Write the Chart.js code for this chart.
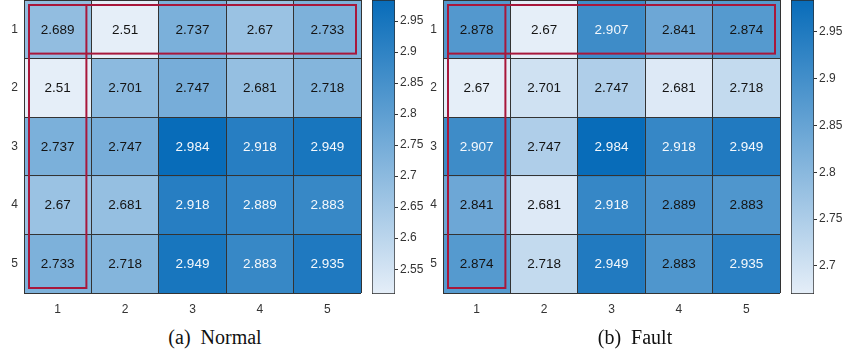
<!DOCTYPE html>
<html>
<head>
<meta charset="utf-8">
<script src="https://cdn.jsdelivr.net/npm/chart.js@4/dist/chart.umd.min.js"></script>
<style>
  html, body { margin: 0; padding: 0; background: #ffffff; }
  #wrap { position: relative; width: 846px; height: 356px; overflow: hidden; }
  canvas { position: absolute; }
  .caption {
    position: absolute; width: 300px; text-align: center;
    font-family: "Liberation Serif", "Times New Roman", serif;
    font-size: 20px; line-height: 20px; color: #111; word-spacing: 5px;
  }
</style>
</head>
<body>
<div id="wrap">
  <canvas id="heatNormal" width="364" height="320" style="left:0px;top:0px"></canvas>
  <canvas id="barNormal" width="55" height="294" style="left:372px;top:0px"></canvas>
  <canvas id="heatFault" width="364" height="320" style="left:419px;top:0px"></canvas>
  <canvas id="barFault" width="55" height="294" style="left:791px;top:0px"></canvas>
  <div class="caption" style="left:65px;top:327px">(a) Normal</div>
  <div class="caption" style="left:485px;top:327px">(b) Fault</div>
</div>
<script>
// Grid labels (rows top to bottom, columns left to right)
const rowLabels = ['1', '2', '3', '4', '5'];
const colLabels = ['1', '2', '3', '4', '5'];

// Cell values, one array per row
const normalRow1 = [2.689, 2.51, 2.737, 2.67, 2.733];
const normalRow2 = [2.51, 2.701, 2.747, 2.681, 2.718];
const normalRow3 = [2.737, 2.747, 2.984, 2.918, 2.949];
const normalRow4 = [2.67, 2.681, 2.918, 2.889, 2.883];
const normalRow5 = [2.733, 2.718, 2.949, 2.883, 2.935];

const faultRow1 = [2.878, 2.67, 2.907, 2.841, 2.874];
const faultRow2 = [2.67, 2.701, 2.747, 2.681, 2.718];
const faultRow3 = [2.907, 2.747, 2.984, 2.918, 2.949];
const faultRow4 = [2.841, 2.681, 2.918, 2.889, 2.883];
const faultRow5 = [2.874, 2.718, 2.949, 2.883, 2.935];

// Colorbar tick labels
const normalTicks = [2.55, 2.6, 2.65, 2.7, 2.75, 2.8, 2.85, 2.9, 2.95];
const faultTicks = [2.7, 2.75, 2.8, 2.85, 2.9, 2.95];

// Highlighted row / column (1-based)
const highlightRow = 1;
const highlightCol = 1;

const normalRows = [normalRow1, normalRow2, normalRow3, normalRow4, normalRow5];
const faultRows = [faultRow1, faultRow2, faultRow3, faultRow4, faultRow5];

const LOW = [229, 238, 248];
const HIGH = [8, 108, 185];
const GRID = '#333333';
const TEXT = '#333333';
const SANS = '"Liberation Sans", Arial, Helvetica, sans-serif';

function colorAt(t) {
  const c = LOW.map((l, i) => Math.round(l + (HIGH[i] - l) * t));
  return `rgb(${c[0]},${c[1]},${c[2]})`;
}

function rangeOf(rows) {
  const all = rows.flat();
  return [Math.min(...all), Math.max(...all)];
}

// Axes hug the plot edges: no extra room for half tick labels
function noEdgePadding(scale) {
  scale.paddingTop = 0;
  scale.paddingBottom = 0;
  scale.paddingLeft = 0;
  scale.paddingRight = 0;
}

// Draws cell values and the highlight frames on top of the grid
const cellAnnotations = {
  id: 'cellAnnotations',
  afterDraw(chart) {
    const { ctx, scales } = chart;
    const opts = chart.options.plugins.cellAnnotations;
    const [lo, hi] = opts.range;
    ctx.save();
    ctx.font = '13.5px ' + SANS;
    ctx.textAlign = 'center';
    ctx.textBaseline = 'middle';
    chart.data.datasets.forEach((ds, di) => {
      const meta = chart.getDatasetMeta(di);
      meta.data.forEach((el, ci) => {
        const v = ds.cellValues[ci];
        const t = (v - lo) / (hi - lo);
        ctx.fillStyle = t > 0.75 ? '#f4f8fc' : '#141414';
        const { x, y, base } = el.getProps(['x', 'y', 'base'], true);
        ctx.fillText(String(v), x, (y + base) / 2 + 0.5);
      });
    });
    // highlight frames
    const xs = scales.x, ys = scales.y;
    const inset = 5;
    const half = xs.width / chart.data.labels.length / 2;
    ctx.strokeStyle = '#a8173b';
    ctx.lineWidth = 2;
    const r0 = ys.getPixelForValue(highlightRow - 0.5);
    const r1 = ys.getPixelForValue(highlightRow + 0.5);
    ctx.strokeRect(xs.left + inset, Math.min(r0, r1) + inset,
      xs.right - xs.left - 2 * inset, Math.abs(r1 - r0) - 2 * inset);
    const cx = xs.getPixelForValue(highlightCol - 1);
    ctx.strokeRect(cx - half + inset, ys.top + inset,
      2 * half - 2 * inset, ys.bottom - ys.top - 2 * inset);
    ctx.restore();
  }
};

function makeHeatmap(id, rows) {
  const range = rangeOf(rows);
  const [lo, hi] = range;
  const datasets = rows.map((vals, ri) => ({
    data: vals.map(() => [ri + 0.5, ri + 1.5]),
    cellValues: vals,
    backgroundColor: vals.map(v => colorAt((v - lo) / (hi - lo))),
    borderWidth: 0,
    grouped: false,
    barPercentage: 1,
    categoryPercentage: 1
  }));
  return new Chart(document.getElementById(id), {
    type: 'bar',
    data: { labels: colLabels, datasets },
    options: {
      responsive: false,
      animation: false,
      events: [],
      layout: { padding: { top: 0, right: 3, bottom: 0, left: 0 } },
      plugins: {
        legend: { display: false },
        tooltip: { enabled: false },
        cellAnnotations: { range }
      },
      scales: {
        x: {
          type: 'category',
          offset: true,
          grid: { offset: true, color: GRID, lineWidth: 1, drawTicks: false, z: 1 },
          border: { display: false },
          ticks: { color: TEXT, font: { family: SANS, size: 12 }, padding: 9 },
          afterFit(scale) { scale.height = 27; noEdgePadding(scale); }
        },
        y: {
          type: 'linear',
          reverse: true,
          min: 0.5,
          max: rowLabels.length + 0.5,
          afterBuildTicks(scale) {
            const ticks = [];
            for (let i = 0; i <= rowLabels.length * 2; i++) ticks.push({ value: 0.5 + i / 2 });
            scale.ticks = ticks;
          },
          grid: {
            color: ctx => (ctx.tick && Number.isInteger(ctx.tick.value)) ? 'rgba(0,0,0,0)' : GRID,
            lineWidth: 1,
            drawTicks: false,
            z: 1
          },
          border: { display: false },
          ticks: {
            color: TEXT,
            font: { family: SANS, size: 12 },
            padding: 6,
            autoSkip: false,
            callback: v => Number.isInteger(v) ? rowLabels[v - 1] : ''
          },
          afterFit(scale) { scale.width = 24; noEdgePadding(scale); }
        }
      }
    },
    plugins: [cellAnnotations]
  });
}

function makeColorbar(id, rows, tickValues) {
  const [lo, hi] = rangeOf(rows);
  return new Chart(document.getElementById(id), {
    type: 'bar',
    data: {
      labels: [''],
      datasets: [{
        data: [[lo, hi]],
        backgroundColor(ctx) {
          const chart = ctx.chart;
          if (!chart.chartArea) return colorAt(0.5);
          const y = chart.scales.y;
          const g = chart.ctx.createLinearGradient(0, y.getPixelForValue(lo), 0, y.getPixelForValue(hi));
          g.addColorStop(0, colorAt(0));
          g.addColorStop(1, colorAt(1));
          return g;
        },
        borderColor: '#2a2a2a',
        borderWidth: 1,
        borderSkipped: false,
        barPercentage: 1,
        categoryPercentage: 1
      }]
    },
    options: {
      responsive: false,
      animation: false,
      events: [],
      layout: { padding: 0 },
      plugins: { legend: { display: false }, tooltip: { enabled: false } },
      scales: {
        x: { display: false, offset: true },
        y: {
          position: 'right',
          min: lo,
          max: hi,
          afterBuildTicks(scale) { scale.ticks = tickValues.map(v => ({ value: v })); },
          grid: { drawOnChartArea: false, color: GRID, tickLength: 3 },
          border: { display: false },
          ticks: {
            color: TEXT,
            font: { family: SANS, size: 12 },
            padding: 2,
            callback: v => String(v)
          },
          afterFit(scale) { scale.width = 32; noEdgePadding(scale); }
        }
      }
    }
  });
}

makeHeatmap('heatNormal', normalRows);
makeColorbar('barNormal', normalRows, normalTicks);
makeHeatmap('heatFault', faultRows);
makeColorbar('barFault', faultRows, faultTicks);
</script>
</body>
</html>
